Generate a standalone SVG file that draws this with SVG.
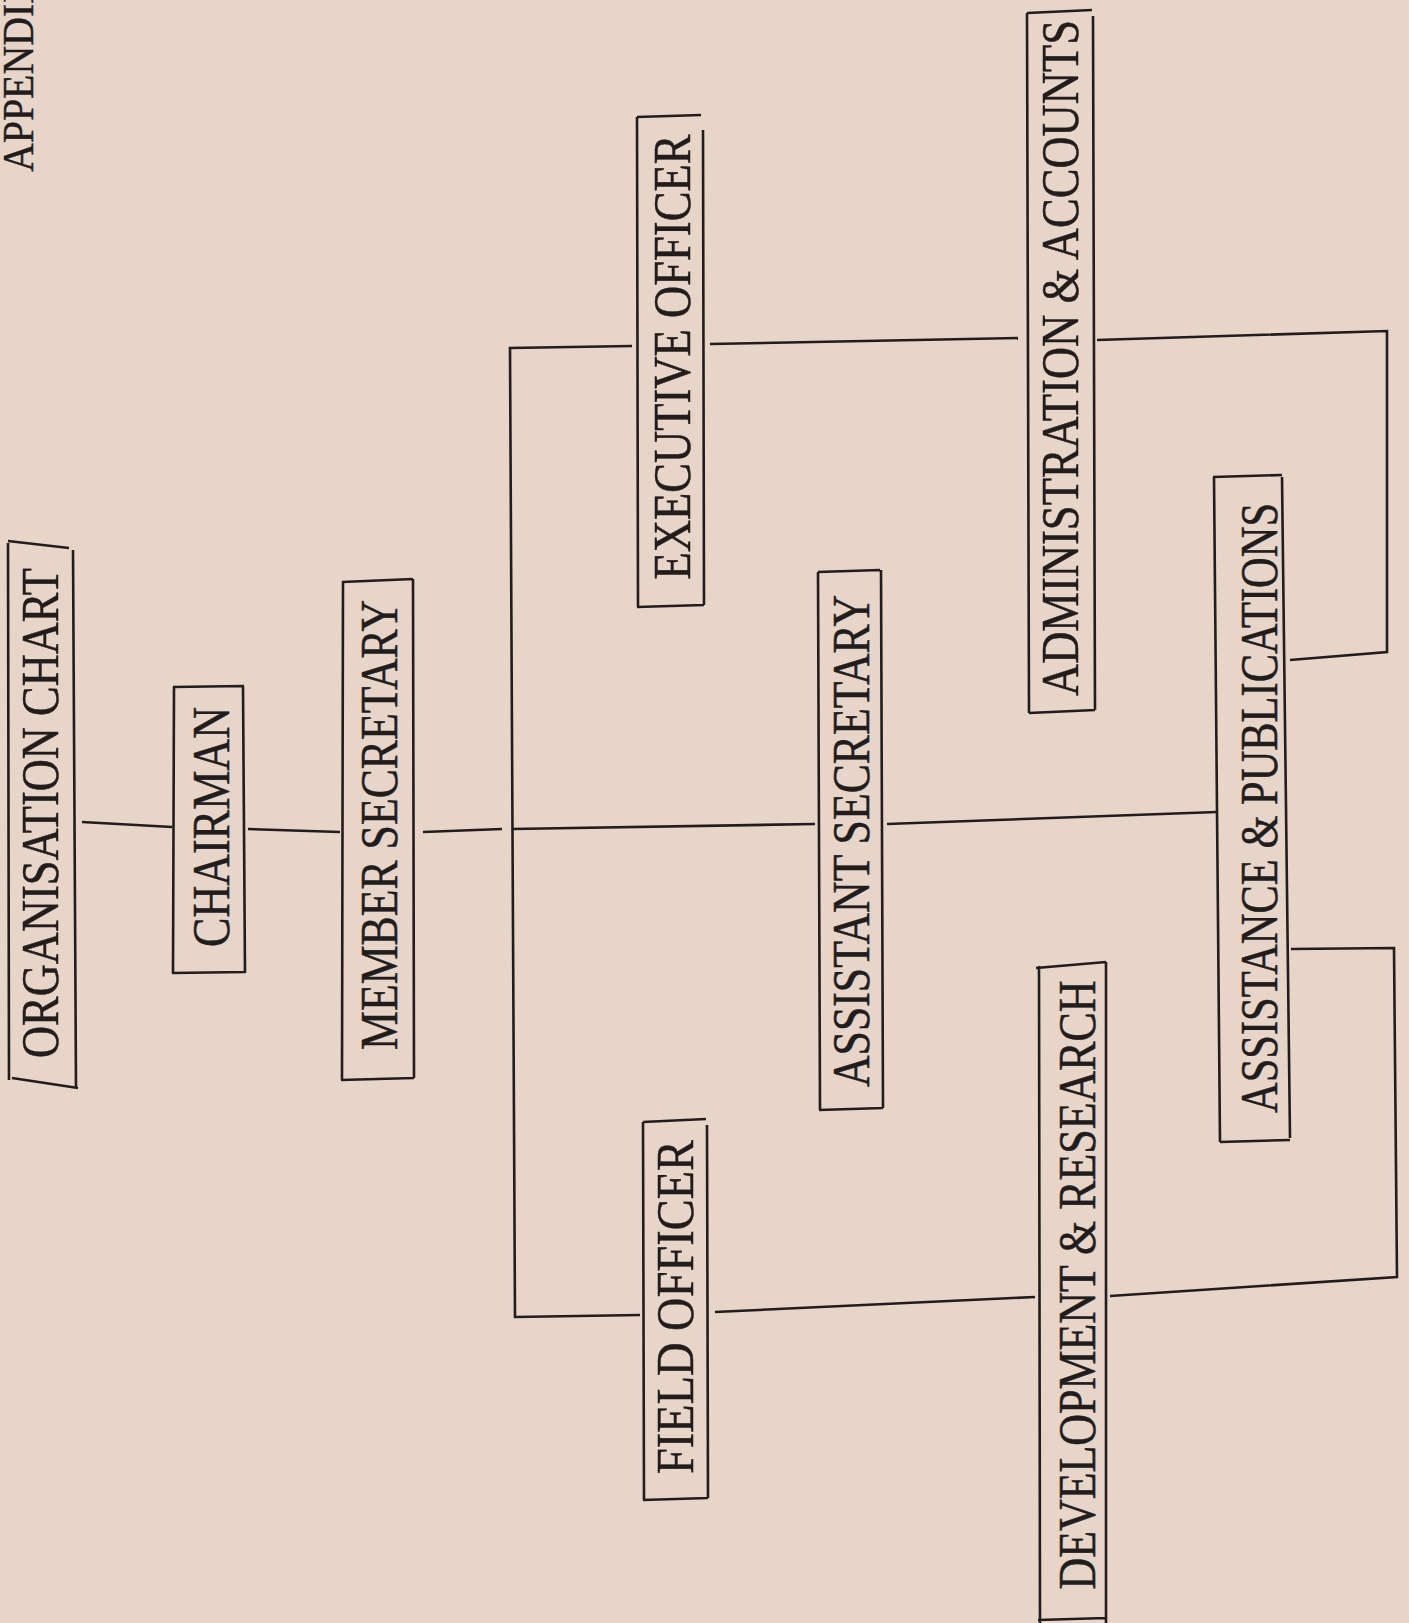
<svg xmlns="http://www.w3.org/2000/svg" width="1409" height="1623" viewBox="0 0 1409 1623">
<style>
.bg{fill:#e7d5c9}
.box{fill:none;stroke:#221d1c;stroke-width:2.6;stroke-linejoin:miter}
.con{fill:none;stroke:#221d1c;stroke-width:2.6}
.lbl{font-family:"Liberation Serif","Times New Roman",serif;font-size:52px;fill:#221d1c;stroke:#221d1c;stroke-width:0.5;text-anchor:middle}
.app{font-family:"Liberation Serif","Times New Roman",serif;font-size:44px;fill:#221d1c;stroke:#221d1c;stroke-width:0.4}
</style>
<rect class="bg" x="0" y="0" width="1409" height="1623"/>
<text class="app" transform="translate(33,172) rotate(-90)" textLength="197" lengthAdjust="spacingAndGlyphs">APPENDIX</text>
<g id="connectors">
<path class="con" d="M82,822 L172,827"/>
<path class="con" d="M248,829 L340,832"/>
<path class="con" d="M423,832 L502,829"/>
<path class="con" d="M512,829 L815,824"/>
<path class="con" d="M632,346 L510,348 L515,1317 L640,1315"/>
<path class="con" d="M710,344 L1018,338"/>
<path class="con" d="M1097,340 L1387,331 L1387,652 L1290,660"/>
<path class="con" d="M887,824 L1217,812"/>
<path class="con" d="M1291,949 L1394,948 L1397,1277 L1110,1296"/>
<path class="con" d="M715,1312 L1035,1297"/>
</g>
<g id="node-organisation-chart">
<path class="box" d="M8,541 L69,548 M8,543 L9,1080 M73,550 L76,1088 M12,1078 L78,1088"/>
<text class="lbl" transform="translate(58,813) rotate(-90)" textLength="490" lengthAdjust="spacingAndGlyphs">ORGANISATION CHART</text>
</g>
<g id="node-chairman">
<path class="box" d="M173,687 L244,686 M174,687 L173,973 M243,686 L245,973 M172,973 L245,972"/>
<text class="lbl" transform="translate(229,827) rotate(-90)" textLength="240" lengthAdjust="spacingAndGlyphs">CHAIRMAN</text>
</g>
<g id="node-member-secretary">
<path class="box" d="M342,582 L413,579 M343,581 L342,1080 M413,579 L414,1078 M341,1080 L414,1078"/>
<text class="lbl" transform="translate(397,825) rotate(-90)" textLength="450" lengthAdjust="spacingAndGlyphs">MEMBER SECRETARY</text>
</g>
<g id="node-executive-officer">
<path class="box" d="M637,117 L701,115 M637,117 L638,607 M703,130 L704,605 M637,607 L704,605"/>
<text class="lbl" transform="translate(690,357) rotate(-90)" textLength="445" lengthAdjust="spacingAndGlyphs">EXECUTIVE  OFFICER</text>
</g>
<g id="node-assistant-secretary">
<path class="box" d="M818,572 L880,570 M818,572 L820,1110 M881,570 L883,1108 M819,1110 L883,1108"/>
<text class="lbl" transform="translate(869,841) rotate(-90)" textLength="492" lengthAdjust="spacingAndGlyphs">ASSISTANT SECRETARY</text>
</g>
<g id="node-administration-accounts">
<path class="box" d="M1027,13 L1092,10 M1027,13 L1029,713 M1093,16 L1095,710 M1029,713 L1095,710"/>
<text class="lbl" transform="translate(1078,358) rotate(-90)" textLength="676" lengthAdjust="spacingAndGlyphs">ADMINISTRATION &amp; ACCOUNTS</text>
</g>
<g id="node-assistance-publications">
<path class="box" d="M1213,477 L1282,475 M1214,477 L1220,1142 M1282,477 L1290,1138 M1220,1142 L1290,1140"/>
<text class="lbl" transform="translate(1277,808) rotate(-90)" textLength="610" lengthAdjust="spacingAndGlyphs">ASSISTANCE &amp; PUBLICATIONS</text>
</g>
<g id="node-field-officer">
<path class="box" d="M643,1122 L706,1119 M643,1122 L644,1500 M707,1125 L708,1498 M643,1500 L708,1498"/>
<text class="lbl" transform="translate(693,1307) rotate(-90)" textLength="334" lengthAdjust="spacingAndGlyphs">FIELD OFFICER</text>
</g>
<g id="node-development-research">
<path class="box" d="M1036,968 L1106,962 M1039,966 L1040,1623 M1106,962 L1106,1623 M1038,1620 L1106,1618"/>
<text class="lbl" transform="translate(1095,1285) rotate(-90)" textLength="609" lengthAdjust="spacingAndGlyphs">DEVELOPMENT  &amp;  RESEARCH</text>
</g>
</svg>
